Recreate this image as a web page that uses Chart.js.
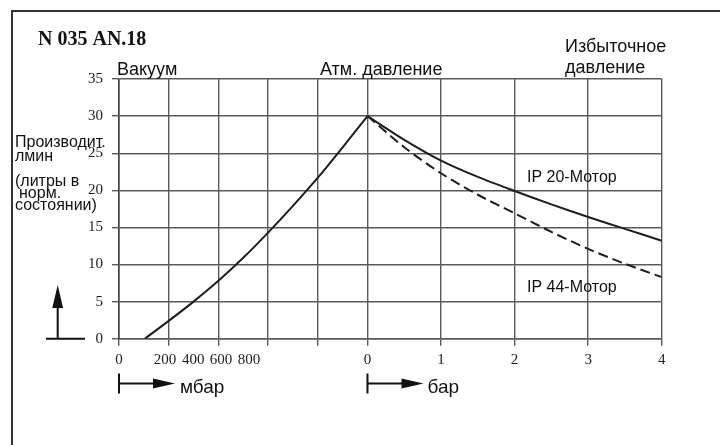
<!DOCTYPE html>
<html>
<head>
<meta charset="utf-8">
<script src="https://cdn.jsdelivr.net/npm/chart.js@4"></script>
<style>
  html, body { margin: 0; padding: 0; background: #fff; }
  #wrap { width: 720px; height: 445px; }
</style>
</head>
<body>
<div id="wrap"><canvas id="chart"></canvas></div>
<script>
// vacuum side: absolute pressure, mbar
const vacMbar = [104, 200, 300, 400, 500, 600, 700, 800, 900, 1000];
const vacFlow = [0, 2.4, 5.0, 7.8, 10.9, 14.3, 17.9, 21.7, 25.8, 30];

// overpressure side: bar
const presBar = [0, 0.5, 1, 1.5, 2, 2.5, 3, 3.5, 4];
const ip20Flow = [30, 26.8, 24.0, 21.8, 19.9, 18.1, 16.4, 14.8, 13.2];
const ip44Flow = [30, 25.8, 22.3, 19.4, 16.9, 14.4, 12.1, 10.1, 8.3];

const mbarGrid = [0, 200, 400, 600, 800, 1000];
const barGrid = [0, 1, 2, 3, 4];
const mbarLabels = ['0', '200', '400', '600', '800'];
const mbarLabelAt = [0, 185, 299, 410, 523]; // the original prints them squeezed together
const barLabels = ['0', '1', '2', '3', '4'];

// one bar step is drawn ~1.48x as wide as a 200 mbar step
const BAR_W = 296;
function barX(b) { return 1000 + b * BAR_W; }

// ticks: some carry a grid line, some only a label
const xTicks = [];
mbarGrid.forEach(v => xTicks.push({ value: v, grid: true, text: '' }));
mbarLabels.forEach((t, i) => {
    const v = mbarLabelAt[i];
    const g = xTicks.find(k => k.value === v);
    if (g) g.text = t; else xTicks.push({ value: v, grid: false, text: t });
});
barGrid.forEach((b, i) => {
    const v = barX(b);
    const g = xTicks.find(k => k.value === v);
    if (g) g.text = barLabels[i]; else xTicks.push({ value: v, grid: true, text: barLabels[i] });
});
xTicks.sort((a, b) => a.value - b.value);

const GRID = '#5a5a5a';
const SANS = '"Liberation Sans", Arial, sans-serif';
const SERIF = '"Liberation Serif", "Times New Roman", serif';

function arrowRight(ctx, x0, y, len) {
    ctx.beginPath();
    ctx.moveTo(x0, y - 10); ctx.lineTo(x0, y + 10);
    ctx.moveTo(x0, y); ctx.lineTo(x0 + len - 18, y);
    ctx.stroke();
    ctx.beginPath();
    ctx.moveTo(x0 + len, y);
    ctx.lineTo(x0 + len - 22, y - 5);
    ctx.lineTo(x0 + len - 22, y + 5);
    ctx.closePath();
    ctx.fill();
}

const decor = {
    id: 'decor',
    afterDraw(chart) {
        const ctx = chart.ctx;
        const xs = chart.scales.x, ys = chart.scales.y;
        ctx.save();

        // frame
        ctx.strokeStyle = '#333';
        ctx.lineWidth = 2;
        ctx.beginPath();
        ctx.moveTo(12, 445); ctx.lineTo(12, 11); ctx.lineTo(720, 11);
        ctx.stroke();

        ctx.fillStyle = '#111';
        ctx.textBaseline = 'alphabetic';
        ctx.textAlign = 'left';
        ctx.font = 'bold 20px ' + SERIF;
        ctx.fillText('N 035 AN.18', 38, 45);

        ctx.font = '18px ' + SANS;
        ctx.fillText('Вакуум', 117, 75);
        ctx.fillText('Атм. давление', 320, 75);
        ctx.fillText('Избыточное', 565, 52);
        ctx.fillText('давление', 565, 73);

        ctx.font = '16px ' + SANS;
        ctx.fillText('Производит.', 15, 146.5);
        ctx.fillText('лмин', 15, 160.5);
        ctx.fillText('(литры в', 15, 186);
        ctx.fillText('норм.', 19, 198);
        ctx.fillText('состоянии)', 15, 210);

        ctx.fillText('IP 20-Мотор', 527, 182);
        ctx.fillText('IP 44-Мотор', 527, 291.5);

        // small up arrow beside the y axis
        const y0 = ys.getPixelForValue(0);
        ctx.strokeStyle = '#111';
        ctx.lineWidth = 2;
        ctx.beginPath();
        ctx.moveTo(46, y0); ctx.lineTo(85, y0);
        ctx.moveTo(57.7, y0); ctx.lineTo(57.7, 300);
        ctx.stroke();
        ctx.beginPath();
        ctx.moveTo(57.7, 285); ctx.lineTo(52.3, 308); ctx.lineTo(63.1, 308);
        ctx.closePath();
        ctx.fill();

        // unit arrows under the axis
        ctx.font = '19px ' + SANS;
        const xm = xs.getPixelForValue(0);
        arrowRight(ctx, xm, 383.5, 56);
        ctx.fillText('мбар', xm + 61, 393);
        const xb = xs.getPixelForValue(barX(0));
        arrowRight(ctx, xb, 383.5, 56);
        ctx.fillText('бар', xb + 60, 393);

        ctx.restore();
    }
};

new Chart(document.getElementById('chart'), {
    type: 'line',
    data: {
        datasets: [{
            label: 'Вакуум',
            data: vacMbar.map((m, i) => ({ x: m, y: vacFlow[i] })),
            borderColor: '#1e1e1e',
            borderWidth: 2,
            pointRadius: 0,
            tension: 0.3,
            fill: false
        }, {
            label: 'IP 20-Мотор',
            data: presBar.map((b, i) => ({ x: barX(b), y: ip20Flow[i] })),
            borderColor: '#1e1e1e',
            borderWidth: 2,
            pointRadius: 0,
            tension: 0.3,
            fill: false
        }, {
            label: 'IP 44-Мотор',
            data: presBar.map((b, i) => ({ x: barX(b), y: ip44Flow[i] })),
            borderColor: '#1e1e1e',
            borderWidth: 2,
            borderDash: [10, 5],
            pointRadius: 0,
            tension: 0.3,
            fill: false
        }]
    },
    options: {
        responsive: true,
        maintainAspectRatio: false,
        animation: false,
        layout: { padding: { left: 0, top: 79, right: 58.3, bottom: 0 } },
        plugins: { legend: { display: false }, tooltip: { enabled: false } },
        scales: {
            x: {
                type: 'linear',
                min: 0,
                max: barX(4),
                afterBuildTicks: s => { s.ticks = xTicks.map(t => ({ ...t })); },
                afterFit: s => { s.height = 445 - 338.7; },
                ticks: {
                    autoSkip: false,
                    maxRotation: 0,
                    minRotation: 0,
                    padding: 5,
                    color: '#222',
                    font: { family: SERIF, size: 15 },
                    callback: (v, i, ticks) => ticks[i].text
                },
                grid: {
                    color: c => (c.tick && c.tick.grid) ? GRID : 'rgba(0,0,0,0)',
                    lineWidth: 1.4,
                    tickLength: 7
                },
                border: { color: GRID, width: 1.6 }
            },
            y: {
                min: 0,
                max: 35,
                afterFit: s => { s.width = 119; },
                ticks: {
                    stepSize: 5,
                    padding: 9,
                    color: '#222',
                    font: { family: SERIF, size: 15 }
                },
                grid: { color: GRID, lineWidth: 1.4, tickLength: 7 },
                border: { color: '#444', width: 1.6 }
            }
        }
    },
    plugins: [decor]
});
</script>
</body>
</html>
